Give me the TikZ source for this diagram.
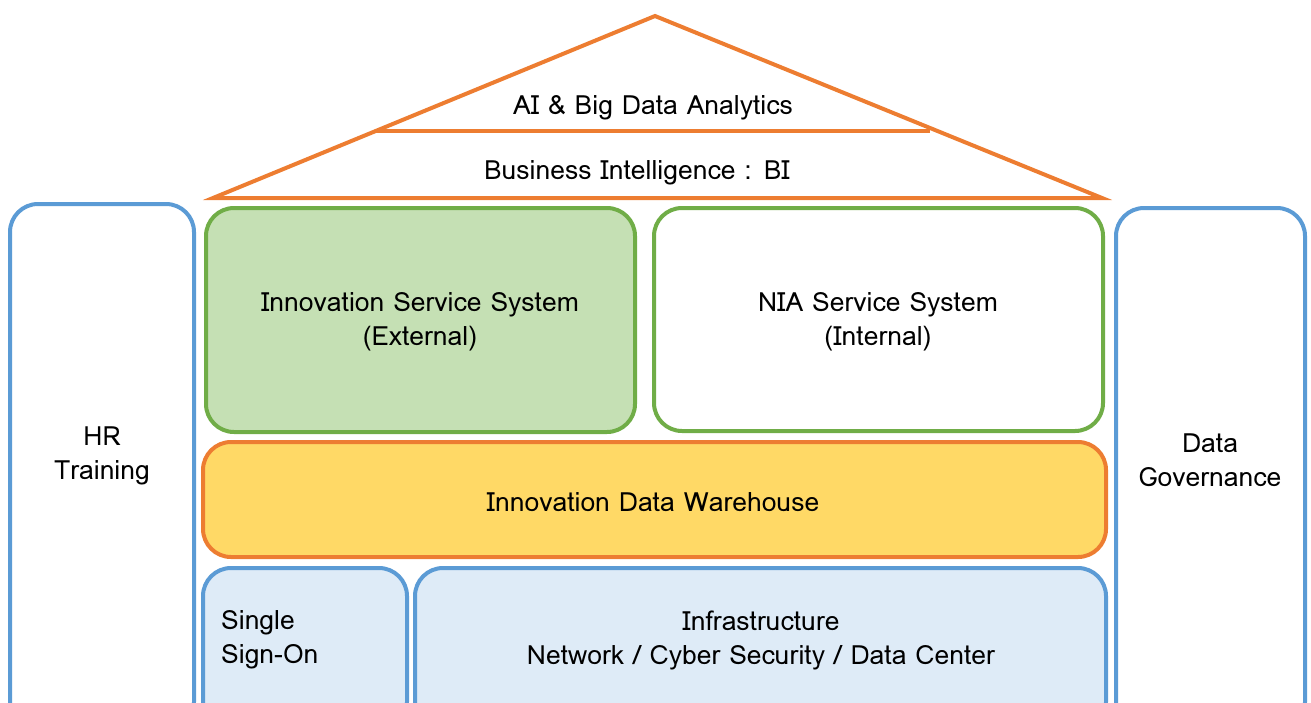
\documentclass[tikz,border=0pt]{standalone}
\usepackage{fontspec}
\setmainfont{Loma}[Script=Thai]
\definecolor{ublue}{HTML}{5B9BD5}
\definecolor{ugreen}{HTML}{70AD47}
\definecolor{lgreen}{HTML}{C5E0B4}
\definecolor{uorange}{HTML}{ED7D31}
\definecolor{uyellow}{HTML}{FFD966}
\definecolor{lblue}{HTML}{DEEBF7}
\tikzset{
  box/.style={line width=4pt, rounded corners=28pt},
  lbl/.style={font=\fontsize{26.5}{34}\selectfont, align=center, inner sep=0pt},
}
\begin{document}
\begin{tikzpicture}[x=1pt,y=-1pt]
\useasboundingbox (0,0) rectangle (1311,702);
\clip (0,0) rectangle (1311,702);
% roof
\draw[uorange, line width=4pt, line join=miter] (213,198) -- (655,16) -- (1102,198) -- cycle;
\draw[uorange, line width=4pt] (376,131) -- (930,131);
\node[lbl] (ai) at (653,108) {AI \& Big Data Analytics};
\node[lbl] (bi) at (637,173) {Business Intelligence : BI};
% side pillars
\draw[box, ublue, fill=white] (10,204) rectangle (194,730);
\node[lbl] (hr) at (102,456) {HR\\Training};
\draw[box, ublue, fill=white] (1116,208) rectangle (1305,730);
\node[lbl] (dg) at (1210,460) {Data\\Governance};
% services
\draw[box, ugreen, fill=lgreen] (206,208) rectangle (635,432);
\node[lbl] (ext) at (420,322) {Innovation Service System\\(External)};
\draw[box, ugreen, fill=white] (654,208) rectangle (1103,431);
\node[lbl] (int) at (878,322) {NIA Service System\\(Internal)};
% warehouse
\draw[box, uorange, fill=uyellow] (203,442) rectangle (1106,557);
\node[lbl] (dw) at (653,502) {Innovation Data Warehouse};
% bottom
\draw[box, ublue, fill=lblue] (203,568) rectangle (407,730);
\node[lbl, align=left, anchor=west] (sso) at (221,640) {Single\\Sign-On};
\draw[box, ublue, fill=lblue] (415,568) rectangle (1106,730);
\node[lbl] (inf) at (761,640) {Infrastructure\\Network / Cyber Security / Data Center};
\end{tikzpicture}
\end{document}
